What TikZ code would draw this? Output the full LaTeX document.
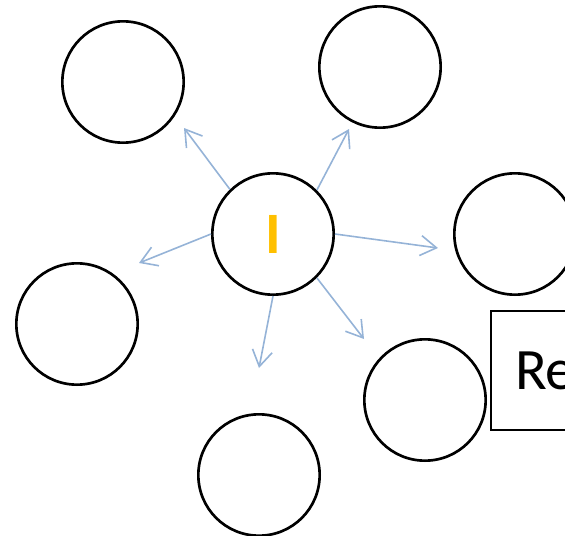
\documentclass[tikz,border=0pt]{standalone}
\usepackage{fontspec}
\setsansfont{Carlito}
\usetikzlibrary{arrows.meta}

\definecolor{linkblue}{RGB}{149,179,215}
\definecolor{letteryellow}{RGB}{255,192,0}

\tikzset{
  every bubble/.style={circle, draw, line width=2pt, minimum size=91pt, inner sep=0pt},
  big text/.style={font=\sffamily\fontsize{44}{52}\selectfont},
  link/.style={->, draw=linkblue, line width=1.2pt}
}

\begin{document}
\begin{tikzpicture}[x=0.75pt, y=0.75pt, >={Straight Barb[length=12pt,width=15pt]}]
\useasboundingbox (0,0) rectangle (565,-536);

\node [every bubble, big text, text=letteryellow] (centre) at (273,-234) {\bfseries I};

\foreach \x/\y [count=\n] in {123/-82, 380/-67, 515/-234, 77/-324, 259/-475, 425/-400}
  \node [every bubble] (outer-\n) at (\x,\y) {};

\node [draw, line width=1.7pt, big text, anchor=north west, minimum height=89pt,
  inner xsep=18pt, text width=74pt, align=left] (reading) at (490,-310) {Re};

\foreach \x/\y [count=\n] in {184/-128, 349/-129, 438/-248, 139/-263, 259/-368, 364/-339}
  \coordinate (tip-\n) at (\x,\y);

\foreach \a [count=\n] in {134,45,0,180,270,315}
  \draw [link] (centre.\a) -- (tip-\n);

\end{tikzpicture}
\end{document}
